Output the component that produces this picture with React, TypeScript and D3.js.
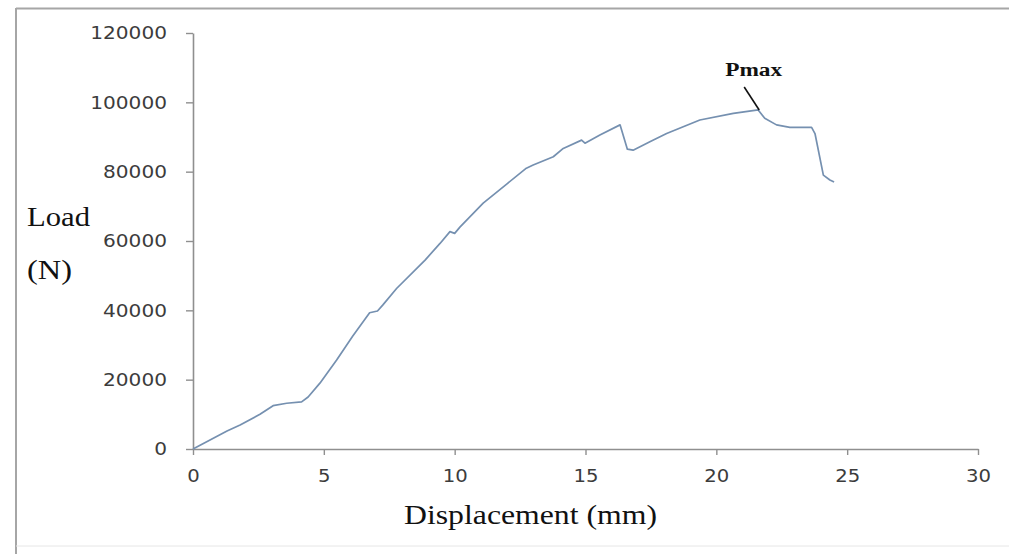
import React, { useRef, useEffect } from "react";
import * as d3 from "d3";

// displacement (mm) and load (N)
const displacement = [
    0, 1.3, 1.8, 2.56, 3.06, 3.58, 4.15, 4.4, 4.85, 5.49, 6.1, 6.75, 7.05, 7.25, 7.78,
    8.87, 9.44, 9.82, 10.0, 10.2, 11.09, 12.0, 12.74, 13.0, 13.77, 14.15, 14.85, 14.98,
    15.55, 16.32, 16.6, 16.82, 17.46, 18.1, 19.37, 20.65, 21.6, 21.85, 22.3, 22.81,
    23.64, 23.77, 24.09, 24.34, 24.5
];
const load = [
    0, 5200, 6900, 10000, 12500, 13200, 13600, 15000, 19000, 25700, 32500, 39300, 39800,
    41500, 46300, 54500, 59300, 62700, 62200, 64000, 70900, 76500, 81000, 81900, 84300,
    86700, 89100, 88200, 90600, 93500, 86500, 86200, 88600, 91000, 94900, 96800, 97800,
    95400, 93500, 92800, 92800, 91000, 79000, 77600, 77000
];
const xTicks = [0, 5, 10, 15, 20, 25, 30];
const yTicks = [0, 20000, 40000, 60000, 80000, 100000, 120000];
const peakIndex = 36;

const W = 1009;
const H = 554;

const App = () => {
    const svgRef = useRef(null);

    useEffect(() => {
        if (!svgRef.current) return;
        const svg = d3.select(svgRef.current);
        svg.selectAll("*").remove();

        const x = d3.scaleLinear().domain([0, 30]).range([193, 978]);
        const y = d3.scaleLinear().domain([0, 120000]).range([449, 33]);

        // frame
        svg.append("line").attr("x1", 16).attr("y1", 8.5).attr("x2", W).attr("y2", 8.5)
            .attr("stroke", "#a6a6a6").attr("stroke-width", 2);
        svg.append("line").attr("x1", 16).attr("y1", 8).attr("x2", 16).attr("y2", H)
            .attr("stroke", "#a6a6a6").attr("stroke-width", 2);
        svg.append("line").attr("x1", 16).attr("y1", 546).attr("x2", W).attr("y2", 546)
            .attr("stroke", "#e6e6e6").attr("stroke-width", 1);

        const fmt = d3.format("d");
        const yAxis = svg.append("g")
            .attr("transform", `translate(${x(0)},0)`)
            .call(d3.axisLeft(y).tickValues(yTicks).tickFormat(fmt).tickSize(7).tickSizeOuter(0).tickPadding(19));
        const xAxis = svg.append("g")
            .attr("transform", `translate(0,${y(0)})`)
            .call(d3.axisBottom(x).tickValues(xTicks).tickFormat(fmt).tickSize(6).tickSizeOuter(0).tickPadding(14));

        [yAxis, xAxis].forEach(g => {
            g.select(".domain").attr("stroke", "#8f8f8f").attr("stroke-width", 1.6);
            g.selectAll(".tick line").attr("stroke", "#8f8f8f").attr("stroke-width", 1.4);
            g.selectAll(".tick text")
                .attr("fill", "#3c3c3c")
                .style("font-family", "'DejaVu Sans', Verdana, sans-serif")
                .style("font-size", "18px")
                .attr("lengthAdjust", "spacingAndGlyphs");
        });
        yAxis.selectAll(".tick text").attr("textLength", d => fmt(d).length * 12.8);
        xAxis.selectAll(".tick text").attr("textLength", d => fmt(d).length * 12.5);

        const line = d3.line()
            .x((d, i) => x(displacement[i]))
            .y((d, i) => y(load[i]));

        svg.append("path")
            .datum(load)
            .attr("fill", "none")
            .attr("stroke", "#7590b0")
            .attr("stroke-width", 1.7)
            .attr("stroke-linejoin", "round")
            .attr("d", line);

        // Pmax annotation
        const px = x(displacement[peakIndex]);
        const py = y(load[peakIndex]);
        svg.append("line")
            .attr("x1", px - 14).attr("y1", py - 23)
            .attr("x2", px + 1).attr("y2", py)
            .attr("stroke", "#111").attr("stroke-width", 1.6);
        svg.append("text")
            .attr("x", px - 33).attr("y", py - 34)
            .attr("textLength", 57).attr("lengthAdjust", "spacingAndGlyphs")
            .style("font-family", "'Liberation Serif', 'Times New Roman', serif")
            .style("font-weight", "bold")
            .style("font-size", "18px")
            .attr("fill", "#111")
            .text("Pmax");

        // axis titles
        const serif = "'Liberation Serif', 'Times New Roman', serif";
        svg.append("text").attr("x", 27).attr("y", 226)
            .attr("textLength", 63).attr("lengthAdjust", "spacingAndGlyphs")
            .style("font-family", serif).style("font-size", "27px").attr("fill", "#111")
            .text("Load");
        svg.append("text").attr("x", 27).attr("y", 279)
            .attr("textLength", 45).attr("lengthAdjust", "spacingAndGlyphs")
            .style("font-family", serif).style("font-size", "27px").attr("fill", "#111")
            .text("(N)");
        svg.append("text").attr("x", 404).attr("y", 524)
            .attr("textLength", 253).attr("lengthAdjust", "spacingAndGlyphs")
            .style("font-family", serif).style("font-size", "27px").attr("fill", "#111")
            .text("Displacement (mm)");
    }, []);

    return (
        <svg
            ref={svgRef}
            width={W}
            height={H}
            style={{ position: "fixed", left: 0, top: 0, background: "white" }}
        ></svg>
    );
};

export default App;
